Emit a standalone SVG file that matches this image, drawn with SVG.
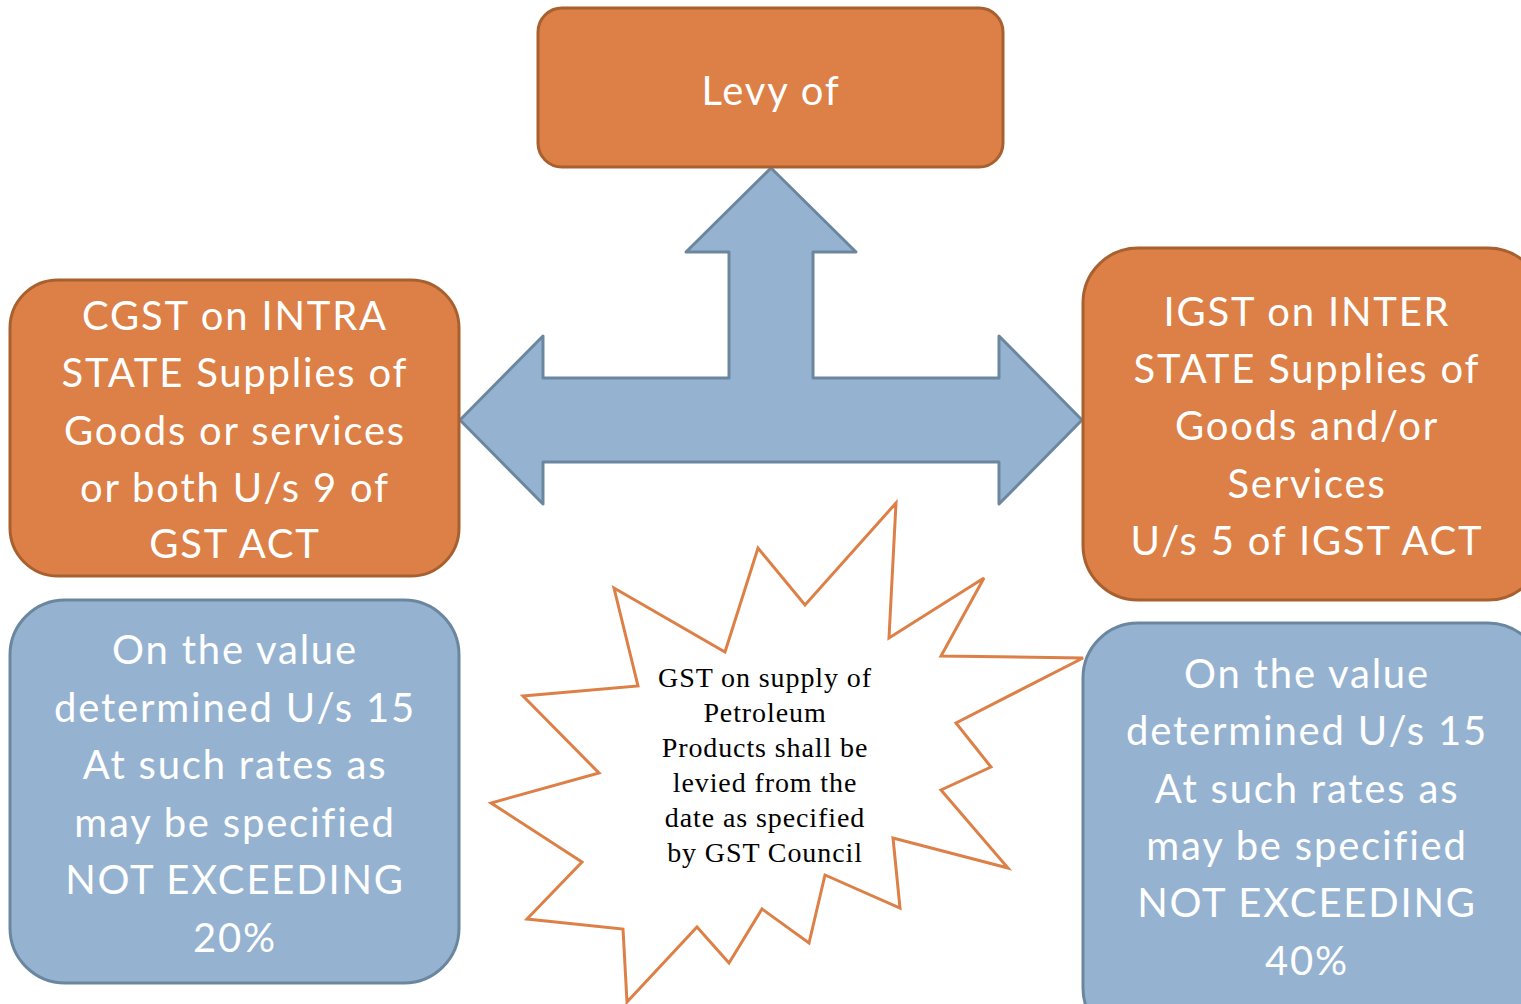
<svg xmlns="http://www.w3.org/2000/svg" width="1521" height="1004" viewBox="0 0 1521 1004">
  <style>
    .orange { fill: #DD8047; stroke: #A8602F; stroke-width: 3; }
    .blue { fill: #95B3D1; stroke: #6B87A0; stroke-width: 3; }
    .label { font-family: Lato, "Open Sans", sans-serif; font-size: 40px; fill: #FFFFFF; text-anchor: middle; letter-spacing: 1.8px; }
    .note { font-family: "Liberation Serif", serif; font-size: 28px; fill: #000000; text-anchor: middle; letter-spacing: 0.9px; }
  </style>

  <rect width="1521" height="1004" fill="#FFFFFF"/>

  <!-- three-way block arrow joining the levy box to both supply boxes -->
  <g id="connectors">
    <path class="blue" stroke-linejoin="round" d="M771,168 L856,252 L813,252 L813,378 L999,378 L999,336 L1082,420 L999,504 L999,462 L543,462 L543,504 L460,420 L543,336 L543,378 L729,378 L729,252 L686,252 Z"/>
  </g>

  <g id="levy">
    <rect class="orange" x="538" y="8" width="465" height="159" rx="24"/>
    <text class="label" x="771" y="105">Levy of</text>
  </g>

  <g id="cgst">
    <rect class="orange" x="10" y="280" width="449" height="296" rx="48"/>
    <text class="label" x="235" y="330">CGST on INTRA</text>
    <text class="label" x="235" y="387">STATE Supplies of</text>
    <text class="label" x="235" y="445">Goods or services</text>
    <text class="label" x="235" y="502">or both U/s 9 of</text>
    <text class="label" x="235" y="558">GST ACT</text>
  </g>

  <g id="igst">
    <rect class="orange" x="1083" y="248" width="460" height="352" rx="55"/>
    <text class="label" x="1307" y="326">IGST on INTER</text>
    <text class="label" x="1307" y="383">STATE Supplies of</text>
    <text class="label" x="1307" y="440">Goods and/or</text>
    <text class="label" x="1307" y="498">Services</text>
    <text class="label" x="1307" y="555">U/s 5 of IGST ACT</text>
  </g>

  <g id="cgst-rate">
    <rect class="blue" x="10" y="600" width="449" height="383" rx="55"/>
    <text class="label" x="235" y="664">On the value</text>
    <text class="label" x="235" y="722">determined U/s 15</text>
    <text class="label" x="235" y="779">At such rates as</text>
    <text class="label" x="235" y="837">may be specified</text>
    <text class="label" x="235" y="894">NOT EXCEEDING</text>
    <text class="label" x="235" y="952">20%</text>
  </g>

  <g id="igst-rate">
    <rect class="blue" x="1083" y="623" width="460" height="420" rx="55"/>
    <text class="label" x="1307" y="688">On the value</text>
    <text class="label" x="1307" y="745">determined U/s 15</text>
    <text class="label" x="1307" y="803">At such rates as</text>
    <text class="label" x="1307" y="860">may be specified</text>
    <text class="label" x="1307" y="917">NOT EXCEEDING</text>
    <text class="label" x="1307" y="975">40%</text>
  </g>

  <g id="petroleum">
    <polygon fill="#FFFFFF" stroke="#DD8047" stroke-width="3" stroke-linejoin="miter"
      points="896,503 889,638 984,578 941,656 1083,658 956,723 991,767 941,790 1008,868 893,838 900,908 825,875 809,943 762,909 729,963 697,927 627,1002 623,929 527,919 582,862 491,803 599,773 523,696 638,686 614,588 725,652 758,548 805,605"/>
    <text class="note" x="765" y="687">GST on supply of</text>
    <text class="note" x="765" y="722">Petroleum</text>
    <text class="note" x="765" y="757">Products shall be</text>
    <text class="note" x="765" y="792">levied from the</text>
    <text class="note" x="765" y="827">date as specified</text>
    <text class="note" x="765" y="862">by GST Council</text>
  </g>
</svg>
